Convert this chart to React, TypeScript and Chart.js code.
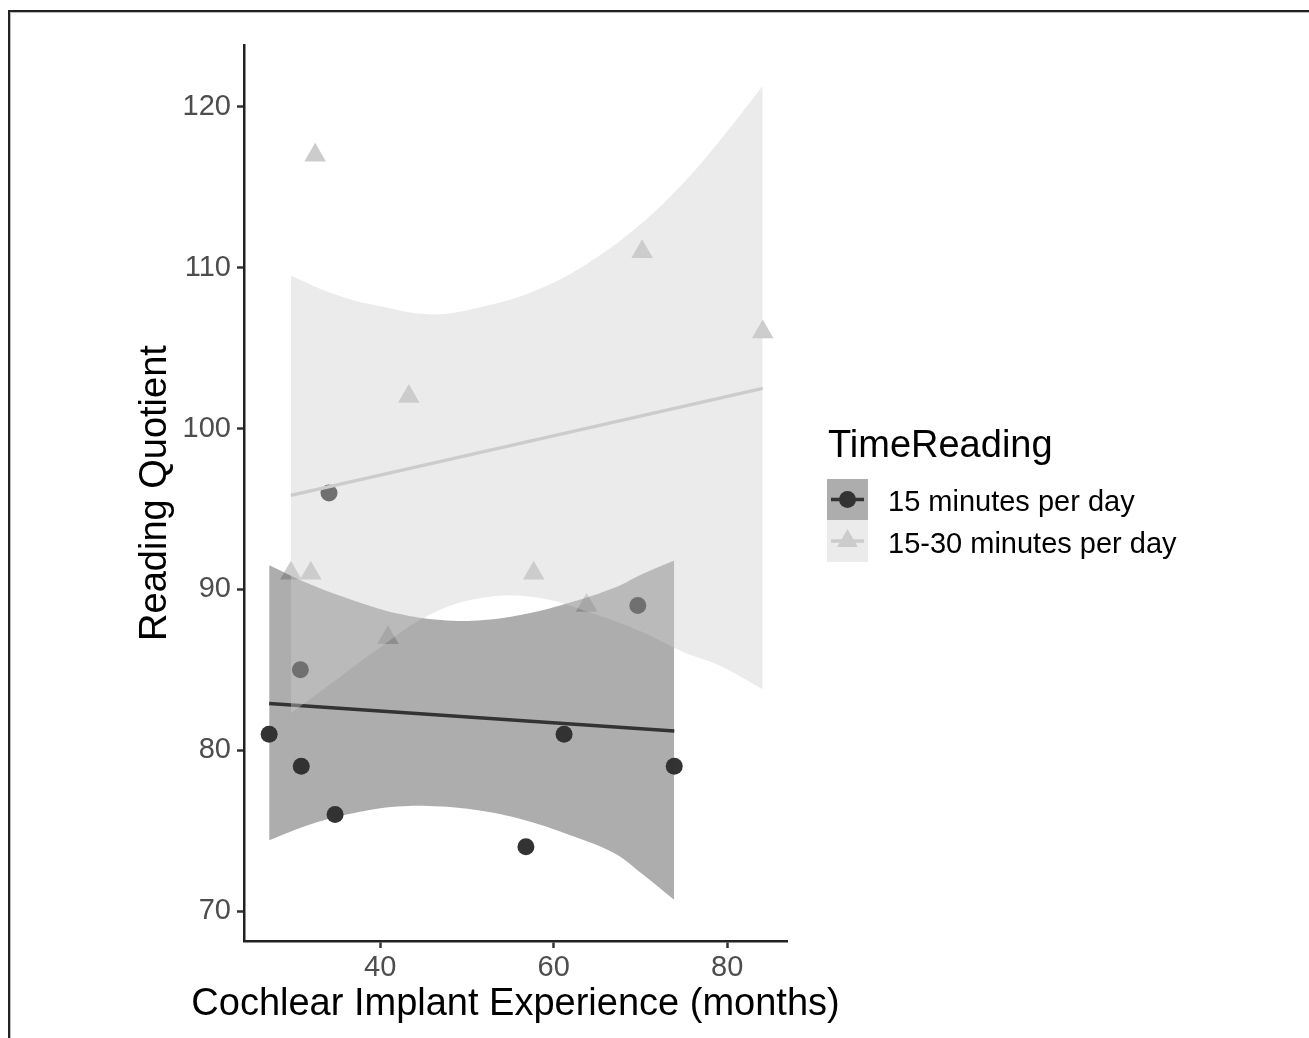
import { useEffect, useRef } from 'react';
import { Chart, registerables } from 'chart.js';

Chart.register(...registerables);

const FONT = '"Liberation Sans", Arial, Helvetica, sans-serif';

const xTitle = 'Cochlear Implant Experience (months)';
const yTitle = 'Reading Quotient';
const legendTitle = 'TimeReading';
const seriesNames = ['15 minutes per day', '15-30 minutes per day'];
const xTicks = [40, 60, 80];
const yTicks = [70, 80, 90, 100, 110, 120];

// group 1: 15 minutes per day (circles)
const g1X = [27.2, 30.9, 34.8, 56.8, 61.2, 73.9, 30.8, 69.7, 34.1];
const g1Y = [81, 79, 76, 74, 81, 79, 85, 89, 96];
// group 2: 15-30 minutes per day (triangles)
const g2X = [32.5, 70.2, 84.1, 43.3, 29.7, 32.0, 57.7, 63.8, 40.9];
const g2Y = [117, 111, 106, 102, 91, 91, 91, 89, 87];

// fitted lines
const fit1X = [27.2, 73.9];
const fit1Y = [82.9, 81.2];
const fit2X = [29.7, 84.1];
const fit2Y = [95.85, 102.5];

// confidence bands
const band1X = [27.2, 32, 37, 42, 47, 52, 57, 62, 67, 70, 73.9];
const band1Upper = [91.5, 90.3, 89.3, 88.5, 88.1, 88.1, 88.5, 89.2, 90.1, 90.9, 91.8];
const band1Lower = [74.4, 75.4, 76.1, 76.5, 76.5, 76.2, 75.6, 74.7, 73.6, 72.4, 70.7];

const band2X = [29.7, 35, 40, 46, 52, 58, 64, 70, 75, 79, 84.1];
const band2Upper = [109.5, 108.3, 107.6, 107.1, 107.6, 108.6, 110.3, 112.7, 115.3, 117.8, 121.3];
const band2Lower = [82.3, 84.4, 86.4, 88.5, 89.5, 89.5, 88.6, 87.4, 86.1, 85.3, 83.8];

const colDark = '#333333';
const colLight = '#cccccc';
const bandDark = 'rgba(51,51,51,0.4)';
const bandLight = 'rgba(204,204,204,0.4)';

const pts = (xs: number[], ys: number[]) => xs.map((x, i) => ({ x, y: ys[i] }));

export default function App() {
  const ref = useRef<HTMLCanvasElement>(null);

  useEffect(() => {
    document.body.style.margin = '0';
    const canvas = ref.current;
    if (!canvas) return;

    const decorPlugin = {
      id: 'decor',
      afterDraw(chart: any) {
        const c = chart.ctx as CanvasRenderingContext2D;
        const area = chart.chartArea;
        c.save();
        // frame
        c.fillStyle = '#222';
        c.fillRect(8, 10, 1301, 2);
        c.fillRect(8, 10, 2, 1028);
        c.fillStyle = '#bbbbbb';
        c.fillRect(10, 12, 1299, 1);
        c.fillRect(10, 12, 1, 1026);

        // x axis title
        c.fillStyle = '#000';
        c.font = `38px ${FONT}`;
        c.textAlign = 'center';
        c.textBaseline = 'alphabetic';
        c.fillText(xTitle, (area.left + area.right) / 2, 1015);

        // legend
        c.textAlign = 'left';
        c.font = `38px ${FONT}`;
        c.fillText(legendTitle, 828, 457);

        // key 1
        c.fillStyle = bandDark;
        c.fillRect(827, 479, 41, 41);
        c.strokeStyle = colDark;
        c.lineWidth = 3.5;
        c.beginPath();
        c.moveTo(831, 499.5);
        c.lineTo(864, 499.5);
        c.stroke();
        c.fillStyle = colDark;
        c.beginPath();
        c.arc(847.5, 499.5, 8.5, 0, Math.PI * 2);
        c.fill();

        // key 2
        c.fillStyle = bandLight;
        c.fillRect(827, 520, 41, 42);
        c.strokeStyle = colLight;
        c.beginPath();
        c.moveTo(831, 541);
        c.lineTo(864, 541);
        c.stroke();
        c.fillStyle = colLight;
        const r = 12;
        const cx = 847.5, cy = 541;
        c.beginPath();
        c.moveTo(cx, cy - r);
        c.lineTo(cx + r * Math.sin((2 * Math.PI) / 3), cy + r / 2);
        c.lineTo(cx - r * Math.sin((2 * Math.PI) / 3), cy + r / 2);
        c.closePath();
        c.fill();

        c.fillStyle = '#000';
        c.font = `29px ${FONT}`;
        c.fillText(seriesNames[0], 888, 510.5);
        c.fillText(seriesNames[1], 888, 552.5);
        c.restore();
      },
    };

    const chart = new Chart(canvas, {
      type: 'line',
      data: {
        datasets: [
          {
            label: seriesNames[0],
            data: pts(g1X, g1Y),
            showLine: false,
            pointStyle: 'circle',
            pointRadius: 8.5,
            pointBorderWidth: 0,
            pointBackgroundColor: colDark,
            borderColor: colDark,
            order: 6,
          },
          {
            label: seriesNames[1],
            data: pts(g2X, g2Y),
            showLine: false,
            pointStyle: 'triangle',
            pointRadius: 12.5,
            pointBorderWidth: 0,
            pointBackgroundColor: colLight,
            borderColor: colLight,
            order: 7,
          },
          {
            label: 'band1 upper',
            data: pts(band1X, band1Upper),
            borderWidth: 0,
            borderColor: 'transparent',
            pointRadius: 0,
            tension: 0.4,
            fill: 3,
            backgroundColor: bandDark,
            order: 5,
          },
          {
            label: 'band1 lower',
            data: pts(band1X, band1Lower),
            borderWidth: 0,
            borderColor: 'transparent',
            pointRadius: 0,
            tension: 0.4,
            fill: false,
            order: 5,
          },
          {
            label: 'fit1',
            data: pts(fit1X, fit1Y),
            borderColor: colDark,
            borderWidth: 3.5,
            pointRadius: 0,
            fill: false,
            order: 4,
          },
          {
            label: 'band2 upper',
            data: pts(band2X, band2Upper),
            borderWidth: 0,
            borderColor: 'transparent',
            pointRadius: 0,
            tension: 0.4,
            fill: 6,
            backgroundColor: bandLight,
            order: 3,
          },
          {
            label: 'band2 lower',
            data: pts(band2X, band2Lower),
            borderWidth: 0,
            borderColor: 'transparent',
            pointRadius: 0,
            tension: 0.4,
            fill: false,
            order: 3,
          },
          {
            label: 'fit2',
            data: pts(fit2X, fit2Y),
            borderColor: colLight,
            borderWidth: 3.5,
            pointRadius: 0,
            fill: false,
            order: 2,
          },
        ],
      },
      options: {
        responsive: false,
        animation: false,
        devicePixelRatio: 1,
        layout: { padding: { left: 0, right: 522, top: 45, bottom: 0 } },
        plugins: { legend: { display: false }, tooltip: { enabled: false } },
        scales: {
          x: {
            type: 'linear',
            min: 24.3,
            max: 86.9,
            afterBuildTicks: (s: any) => {
              s.ticks = xTicks.map((v) => ({ value: v }));
            },
            afterFit: (s: any) => {
              s.height = 97;
            },
            grid: {
              drawOnChartArea: false,
              drawTicks: true,
              tickLength: 7,
              tickWidth: 2.5,
              tickColor: '#333',
            },
            border: { display: true, color: '#222', width: 2.5 },
            ticks: {
              color: '#4d4d4d',
              font: { family: FONT, size: 29 },
              padding: 3,
              maxRotation: 0,
            },
            title: { display: false },
          },
          y: {
            type: 'linear',
            min: 68.14,
            max: 123.85,
            afterBuildTicks: (s: any) => {
              s.ticks = yTicks.map((v) => ({ value: v }));
            },
            afterFit: (s: any) => {
              s.width = 244;
            },
            grid: {
              drawOnChartArea: false,
              drawTicks: true,
              tickLength: 7,
              tickWidth: 2.5,
              tickColor: '#333',
            },
            border: { display: true, color: '#222', width: 2.5 },
            ticks: {
              color: '#4d4d4d',
              font: { family: FONT, size: 29 },
              padding: 6,
            },
            title: {
              display: true,
              text: yTitle,
              color: '#000',
              font: { family: FONT, size: 38 },
              padding: { top: 133, bottom: 0 },
            },
          },
        },
      },
      plugins: [decorPlugin],
    } as any);

    return () => chart.destroy();
  }, []);

  return (
    <div style={{ width: 1309, height: 1038, position: 'relative', overflow: 'hidden', background: '#fff' }}>
      <canvas ref={ref} width={1309} height={1038} style={{ display: 'block' }} />
    </div>
  );
}
